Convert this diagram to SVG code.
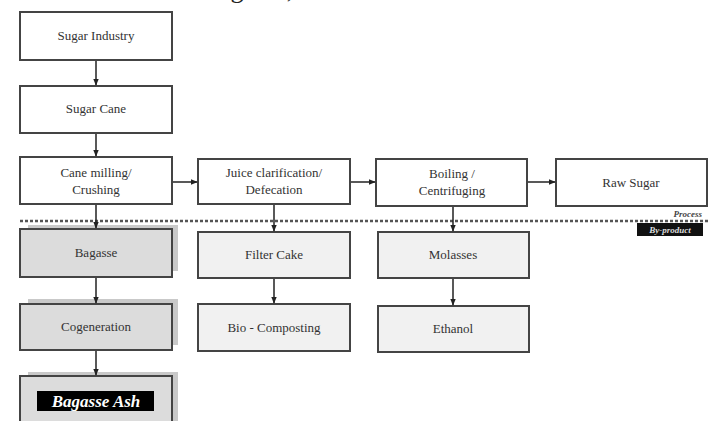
<svg xmlns="http://www.w3.org/2000/svg" width="713" height="421" viewBox="0 0 713 421">
<defs>
<marker id="ah" viewBox="0 0 10 10" refX="9" refY="5" markerWidth="7" markerHeight="7" orient="auto" markerUnits="userSpaceOnUse">
<path d="M0,1 L10,5 L0,9 z" fill="#222"/>
</marker>
</defs>
<style>
.box{fill:#fff;stroke:#444;stroke-width:2}
.lt{fill:#f1f1f1;stroke:#444;stroke-width:2}
.gr{fill:#dcdcdc;stroke:#444;stroke-width:2}
.sh{fill:#c9c9c9}
.t{font-family:"Liberation Serif",serif;font-size:13px;fill:#333;text-anchor:middle}
.c{stroke:#222;stroke-width:1.5;fill:none;marker-end:url(#ah)}
</style>
<rect width="713" height="421" fill="#fff"/>
<text x="206" y="-2" style="font-family:'Liberation Serif',serif;font-size:26px;fill:#222">bagasse,</text>

<line x1="20" y1="221" x2="710" y2="221" stroke="#555" stroke-width="2.5" stroke-dasharray="3,2"/>
<text x="702" y="217" style="font-family:'Liberation Serif',serif;font-size:9px;font-style:italic;font-weight:bold;fill:#444;text-anchor:end">Process</text>
<rect x="637" y="223" width="66" height="13" fill="#111"/>
<text x="670" y="233" style="font-family:'Liberation Serif',serif;font-size:9px;font-style:italic;font-weight:bold;fill:#ddd;text-anchor:middle">By-product</text>

<g id="sugar-industry"><rect class="box" x="20" y="12" width="152" height="48"/><text class="t" x="96" y="40">Sugar Industry</text></g>
<g id="sugar-cane"><rect class="box" x="20" y="86" width="152" height="47"/><text class="t" x="96" y="113">Sugar Cane</text></g>
<g id="cane-milling"><rect class="box" x="20" y="157" width="152" height="47"/><text class="t" x="96" y="177">Cane milling/</text><text class="t" x="96" y="194">Crushing</text></g>
<g id="juice"><rect class="box" x="198" y="159" width="152" height="45"/><text class="t" x="274" y="177">Juice clarification/</text><text class="t" x="274" y="194">Defecation</text></g>
<g id="boiling"><rect class="box" x="376" y="159" width="151" height="47"/><text class="t" x="452" y="178">Boiling /</text><text class="t" x="452" y="195">Centrifuging</text></g>
<g id="raw-sugar"><rect class="box" x="556" y="159" width="151" height="47"/><text class="t" x="631" y="187">Raw Sugar</text></g>

<g id="bagasse"><rect class="sh" x="28" y="225" width="150" height="46"/><rect class="gr" x="20" y="229" width="152" height="48"/><text class="t" x="96" y="257">Bagasse</text></g>
<g id="cogeneration"><rect class="sh" x="28" y="299" width="150" height="46"/><rect class="gr" x="20" y="304" width="152" height="46"/><text class="t" x="96" y="331">Cogeneration</text></g>
<g id="bagasse-ash"><rect class="sh" x="28" y="372" width="150" height="60"/><rect class="gr" x="20" y="376" width="152" height="60"/><rect x="37" y="391" width="117" height="20" fill="#000"/><text x="96" y="407" style="font-family:'Liberation Serif',serif;font-size:17px;font-style:italic;font-weight:bold;fill:#fff;text-anchor:middle">Bagasse Ash</text></g>

<g id="filter-cake"><rect class="lt" x="198" y="232" width="152" height="46"/><text class="t" x="274" y="259">Filter Cake</text></g>
<g id="bio-composting"><rect class="lt" x="198" y="304" width="152" height="47"/><text class="t" x="274" y="332">Bio - Composting</text></g>
<g id="molasses"><rect class="lt" x="378" y="232" width="151" height="46"/><text class="t" x="453" y="259">Molasses</text></g>
<g id="ethanol"><rect class="lt" x="378" y="306" width="151" height="46"/><text class="t" x="453" y="333">Ethanol</text></g>

<g id="connectors">
<line class="c" x1="96" y1="61" x2="96" y2="85"/>
<line class="c" x1="96" y1="134" x2="96" y2="156"/>
<line class="c" x1="173" y1="182" x2="197" y2="182"/>
<line class="c" x1="351" y1="182" x2="375" y2="182"/>
<line class="c" x1="528" y1="182" x2="555" y2="182"/>
<line class="c" x1="96" y1="205" x2="96" y2="228"/>
<line class="c" x1="274" y1="205" x2="274" y2="231"/>
<line class="c" x1="453" y1="207" x2="453" y2="231"/>
<line class="c" x1="96" y1="278" x2="96" y2="303"/>
<line class="c" x1="274" y1="279" x2="274" y2="303"/>
<line class="c" x1="453" y1="279" x2="453" y2="305"/>
<line class="c" x1="96" y1="351" x2="96" y2="375"/>
</g>
</svg>
